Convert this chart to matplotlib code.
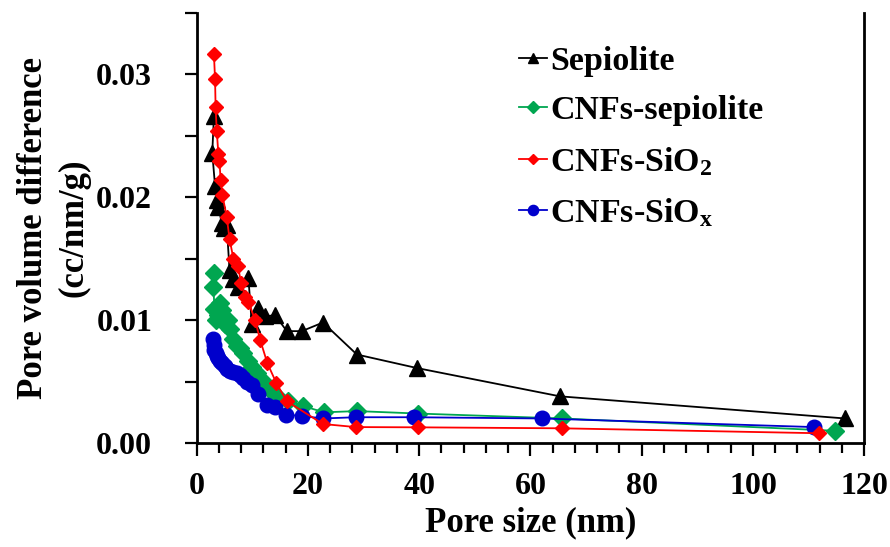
import matplotlib
matplotlib.use("Agg")
import matplotlib.pyplot as plt
from matplotlib.ticker import MultipleLocator, FuncFormatter

# ---- data ----
sep_x = [3.1, 2.8, 3.3, 3.6, 3.9, 4.5, 4.9, 5.4, 5.9, 6.6, 7.5, 9.3, 9.9, 11.1, 12.3, 14.1, 16.2, 18.9, 22.7, 28.8, 39.6, 65.3, 116.6]
sep_y = [0.0266, 0.0236, 0.0209, 0.0198, 0.0192, 0.0179, 0.0175, 0.0177, 0.0141, 0.0133, 0.0127, 0.0134, 0.0097, 0.0110, 0.0103, 0.0104, 0.0091, 0.0091, 0.0098, 0.0072, 0.0061, 0.0038, 0.0020]

cs_x = [3.1, 3.0, 3.2, 3.4, 3.8, 4.2, 4.6, 5.0, 5.6, 6.0, 6.6, 7.2, 7.8, 8.4, 9.2, 10.0, 10.8, 11.8, 13.0, 14.4, 16.4, 19.2, 22.9, 28.8, 39.8, 65.7, 114.7]
cs_y = [0.0138, 0.0127, 0.0109, 0.0100, 0.0104, 0.0114, 0.0108, 0.0097, 0.0100, 0.0093, 0.0085, 0.0079, 0.0077, 0.0073, 0.0067, 0.0062, 0.0057, 0.0051, 0.0044, 0.0038, 0.0034, 0.0030, 0.0025, 0.0026, 0.0024, 0.0020, 0.0010]

si2_x = [3.1, 3.3, 3.4, 3.6, 3.9, 4.1, 4.3, 4.6, 5.4, 5.9, 6.6, 7.4, 8.0, 8.7, 9.3, 10.5, 11.4, 12.7, 14.3, 16.2, 22.7, 28.6, 39.8, 65.7, 111.8]
si2_y = [0.0316, 0.0296, 0.0273, 0.0254, 0.0235, 0.0229, 0.0214, 0.0202, 0.0184, 0.0166, 0.0150, 0.0144, 0.0130, 0.0119, 0.0115, 0.0100, 0.0084, 0.0065, 0.0049, 0.0034, 0.00155, 0.0013, 0.00128, 0.0012, 0.0008]

six_x = [3.0, 3.1, 3.2, 3.4, 3.6, 3.9, 4.2, 4.6, 5.0, 5.5, 6.0, 6.6, 7.2, 7.8, 8.4, 9.1, 9.9, 11.1, 12.6, 14.1, 16.0, 19.0, 22.7, 28.6, 39.0, 62.0, 111.0]
six_y = [0.0085, 0.0080, 0.0076, 0.0073, 0.0071, 0.0069, 0.0067, 0.0065, 0.0063, 0.0060, 0.0059, 0.0058, 0.0057, 0.0055, 0.0053, 0.0050, 0.0047, 0.0040, 0.0031, 0.0029, 0.0023, 0.0022, 0.0020, 0.0021, 0.0021, 0.0020, 0.0013]

labels = ["Sepiolite", "CNFs-sepiolite", r"CNFs-SiO$_{\mathrm{2}}$", r"CNFs-SiO$_{\mathrm{x}}$"]
y_ticks = [0.00, 0.01, 0.02, 0.03]
x_ticks = [0, 20, 40, 60, 80, 100, 120]

# ---- style ----
plt.rcParams["font.family"] = ["Liberation Serif", "DejaVu Serif"]
plt.rcParams["font.weight"] = "bold"
plt.rcParams["mathtext.fontset"] = "custom"
plt.rcParams["mathtext.rm"] = "Liberation Serif:bold"
plt.rcParams["mathtext.it"] = "Liberation Serif:bold"
plt.rcParams["mathtext.bf"] = "Liberation Serif:bold"

fig = plt.figure(figsize=(8.9, 5.47), dpi=100)
ax = fig.add_axes([0.221, 0.19, 0.750, 0.787])

ax.plot(sep_x, sep_y, color="black", lw=1.3, marker="^", ms=11, label=labels[0], zorder=3)
ax.plot(cs_x, cs_y, color="#00A650", lw=1.3, marker="D", ms=9, label=labels[1], zorder=3)
ax.plot(si2_x, si2_y, color="#FF0000", lw=1.3, marker="D", ms=7, label=labels[2], zorder=4)
ax.plot(six_x, six_y, color="#0000CC", lw=1.3, marker="o", ms=10.5, label=labels[3], zorder=3)

ax.set_xlim(0, 120)
ax.set_ylim(0, 0.035)
ax.set_xticks(x_ticks)
ax.xaxis.set_minor_locator(MultipleLocator(4))
ax.set_yticks(y_ticks)
ax.yaxis.set_minor_locator(MultipleLocator(0.005))
ax.yaxis.set_major_formatter(FuncFormatter(lambda v, p: f"{v:.2f}"))

ax.spines["top"].set_visible(False)
ax.spines["right"].set_visible(True)
for s in ["left", "bottom", "right"]:
    ax.spines[s].set_linewidth(2.0)
    ax.spines[s].set_color("black")

ax.tick_params(axis="both", which="both", direction="out", width=1.6, labelsize=23)
ax.tick_params(axis="x", which="major", length=9, pad=12)
ax.tick_params(axis="x", which="minor", length=7)
ax.tick_params(axis="y", which="major", length=9, pad=23)
ax.tick_params(axis="y", which="minor", length=9)
for lab in ax.get_xticklabels() + ax.get_yticklabels():
    lab.set_fontweight("bold")

ax.set_xlabel("Pore size (nm)", fontsize=25, fontweight="bold", labelpad=4)
ax.set_ylabel("Pore volume difference\n(cc/nm/g)", fontsize=25, fontweight="bold", labelpad=4, linespacing=1.3)

leg = ax.legend(loc="upper left", bbox_to_anchor=(0.463, 0.955), frameon=False,
                fontsize=24.5, handlelength=0.8, handletextpad=0.1, labelspacing=0.55,
                borderaxespad=0, markerscale=0.7)
for t in leg.get_texts():
    t.set_fontweight("bold")

fig.savefig("out.png", dpi=100)
